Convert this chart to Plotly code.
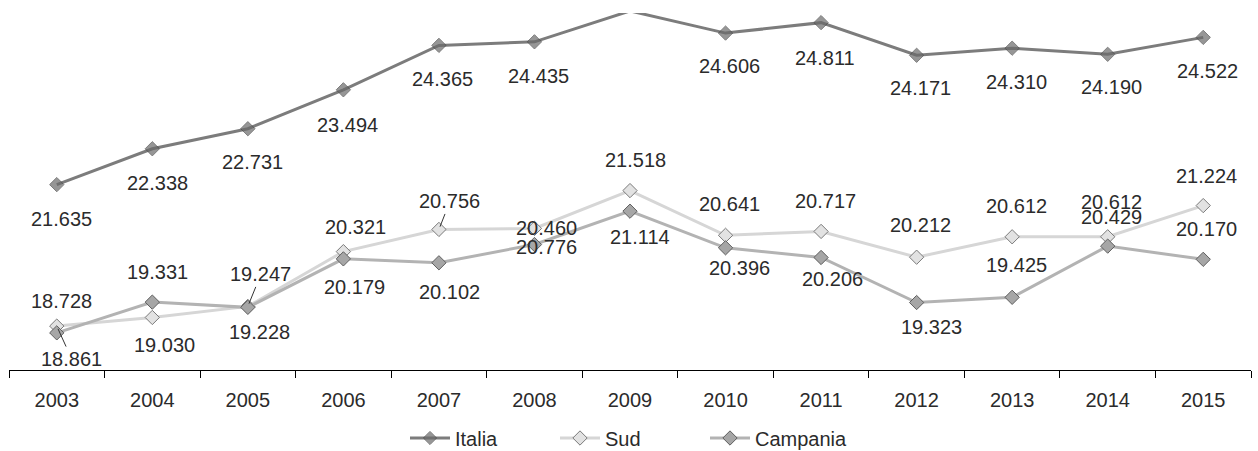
import plotly.graph_objects as go

# Years on the category axis
years = ["2003", "2004", "2005", "2006", "2007", "2008", "2009",
         "2010", "2011", "2012", "2013", "2014", "2015"]

# Series values
italia = [21.635, 22.338, 22.731, 23.494, 24.365, 24.435, 25.04,
          24.606, 24.811, 24.171, 24.310, 24.190, 24.522]
sud = [18.861, 19.030, 19.247, 20.321, 20.756, 20.776, 21.518,
       20.641, 20.717, 20.212, 20.612, 20.612, 21.224]
campania = [18.728, 19.331, 19.228, 20.179, 20.102, 20.460, 21.114,
            20.396, 20.206, 19.323, 19.425, 20.429, 20.170]

Y_MIN, Y_MAX = 18, 25

# Label placement (pixel offsets from each marker: dx right, dy down)
italia_dx = [5, 5, 5, 4, 4, 4, 0, 4, 4, 4, 4, 4, 4]
italia_dy = [34, 34, 33, 35, 34, 34, 0, 33, 35, 33, 34, 33, 34]
italia_show = [True] * 6 + [False] + [True] * 6

sud_dx = [15, 12, 13, 12, 11, 12, 5, 4, 4, 4, 4, 4, 3]
sud_dy = [33, 28, -32, -25, -28, 19, -31, -31, -30, -32, -31, -35, -30]
sud_leader = [True, False, True, False, True] + [False] * 8

camp_dx = [5, 5, 12, 11, 11, 12, 10, 14, 11, 15, 4, 4, 3]
camp_dy = [-32, -30, 25, 28, 29, -17, 26, 20, 22, 24, -32, -29, -30]

LABEL_FONT = dict(family="Liberation Sans, Arial, sans-serif", size=20, color="#2b2b2b")


def marker_sizes(values, size):
    # markers whose centre falls outside the value range are not drawn
    return [size if Y_MIN <= v <= Y_MAX else 0 for v in values]


fig = go.Figure()

fig.add_trace(go.Scatter(
    x=years, y=italia, name="Italia", mode="lines+markers",
    line=dict(color="#7c7c7c", width=3),
    marker=dict(symbol="diamond", size=marker_sizes(italia, 11), color="#6a6a6a",
                line=dict(color="#474747", width=1)),
    cliponaxis=True,
))
fig.add_trace(go.Scatter(
    x=years, y=sud, name="Sud", mode="lines+markers",
    line=dict(color="#d6d6d6", width=3),
    marker=dict(symbol="diamond", size=11, color="#e2e2e2",
                line=dict(color="#7a7a7a", width=1)),
))
fig.add_trace(go.Scatter(
    x=years, y=campania, name="Campania", mode="lines+markers",
    line=dict(color="#b3b3b3", width=3),
    marker=dict(symbol="diamond", size=11, color="#a6a6a6",
                line=dict(color="#5f5f5f", width=1)),
))

# value labels; x is the category index on the year axis
annotations = []
for i in range(len(years)):
    if italia_show[i]:
        annotations.append(dict(xref="x", yref="y", x=i, y=italia[i],
                                text=f"{italia[i]:.3f}", showarrow=False,
                                xshift=italia_dx[i], yshift=-italia_dy[i],
                                font=LABEL_FONT))
    if sud_leader[i]:
        annotations.append(dict(xref="x", yref="y", x=i, y=sud[i],
                                text=f"{sud[i]:.3f}", showarrow=True,
                                arrowhead=0, arrowwidth=1, arrowcolor="#333333",
                                standoff=3, axref="pixel", ayref="pixel",
                                ax=sud_dx[i], ay=sud_dy[i], font=LABEL_FONT))
    else:
        annotations.append(dict(xref="x", yref="y", x=i, y=sud[i],
                                text=f"{sud[i]:.3f}", showarrow=False,
                                xshift=sud_dx[i], yshift=-sud_dy[i],
                                font=LABEL_FONT))
    annotations.append(dict(xref="x", yref="y", x=i, y=campania[i],
                            text=f"{campania[i]:.3f}", showarrow=False,
                            xshift=camp_dx[i], yshift=-camp_dy[i],
                            font=LABEL_FONT))

fig.update_layout(
    width=1258, height=451,
    margin=dict(l=9, r=7, t=13, b=81, autoexpand=False),
    paper_bgcolor="white", plot_bgcolor="white",
    font=dict(family="Liberation Sans, Arial, sans-serif", size=20, color="#2b2b2b"),
    showlegend=True,
    legend=dict(orientation="h", x=0.5, xanchor="center",
                y=-(68 / 357), yanchor="middle",
                font=dict(size=20, color="#2b2b2b"),
                entrywidth=95, entrywidthmode="pixels",
                itemwidth=40, traceorder="normal"),
    annotations=annotations,
    xaxis=dict(type="category", range=[-0.5, len(years) - 0.5],
               showline=True, linecolor="#000000", linewidth=1,
               ticks="outside", tickson="boundaries", ticklen=7,
               tickcolor="#000000", showgrid=False, zeroline=False,
               ticklabelstandoff=12,
               tickfont=dict(size=20, color="#2b2b2b")),
    yaxis=dict(range=[Y_MIN, Y_MAX], visible=False, showgrid=False,
               zeroline=False),
)

fig.write_html("out.html")
